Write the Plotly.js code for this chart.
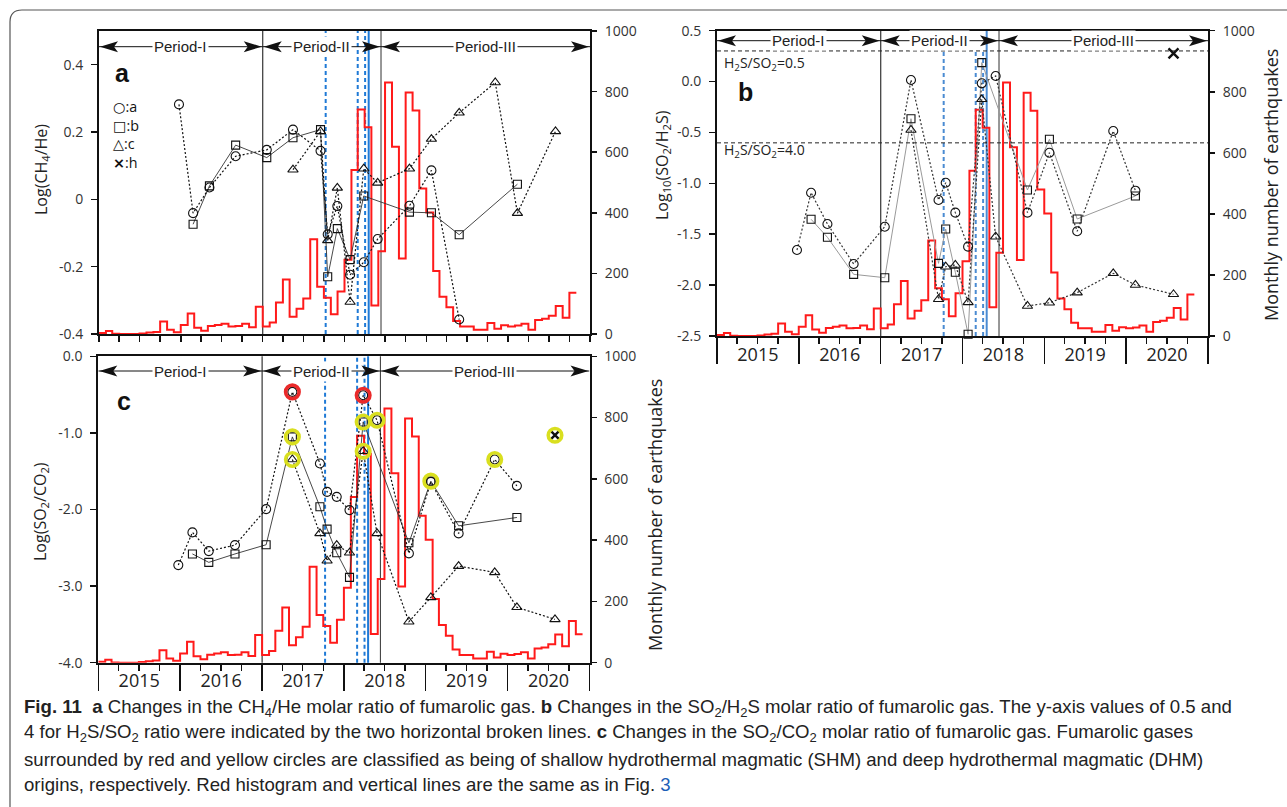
<!DOCTYPE html>
<html><head><meta charset="utf-8">
<script src="https://cdn.plot.ly/plotly-3.0.1.min.js"></script>
<style>html,body{margin:0;padding:0;background:#fff;}#chart{width:1287px;height:807px;}</style>
</head><body><div id="chart"></div>
<script>
// ---------------- DATA ----------------
const sampleDates = ['2015-12-24','2016-02-25','2016-05-08','2016-09-02','2017-01-19','2017-05-16','2017-09-16','2017-10-18','2017-11-30','2018-01-26','2018-03-28','2018-05-29','2018-10-18','2019-01-24','2019-05-28','2019-11-05','2020-02-12','2020-07-31'];
// panel a: Log(CH4/He)
const ch4He_a = [0.282,-0.041,0.035,0.128,0.147,0.207,0.144,-0.104,-0.020,-0.224,-0.187,-0.118,-0.019,0.086,-0.357,null,null,null];
const ch4He_b = [null,-0.074,0.040,0.161,0.124,0.183,0.207,-0.230,-0.087,-0.179,0.010,null,-0.038,-0.040,-0.105,null,0.045,null];
const ch4He_c = [null,null,null,null,null,0.088,0.202,-0.122,0.034,-0.305,0.091,0.049,0.091,0.179,0.257,0.347,-0.041,0.202];
// panel b: Log10(SO2/H2S)
const so2H2s_a = [-1.655,-1.092,-1.399,-1.792,-1.426,0.016,-1.164,-0.994,-1.288,-1.622,-0.017,0.055,-1.288,-0.699,-1.471,-0.486,-1.072,null];
const so2H2s_b = [null,-1.353,-1.530,-1.894,-1.927,-0.365,-1.786,-1.449,-1.874,-2.483,0.186,null,-1.065,-0.567,-1.350,null,-1.124,null];
const so2H2s_c = [null,null,null,null,null,-0.476,-2.139,-1.819,-1.802,-2.170,-0.174,-1.524,-2.205,-2.173,-2.074,-1.884,-1.999,-2.090];
const so2H2s_h = [null,null,null,null,null,null,null,null,null,null,null,null,null,null,null,null,null,0.278];
// panel c: Log(SO2/CO2)
const so2Co2_a = [-2.726,-2.299,-2.543,-2.465,-1.995,-0.465,-1.399,-1.770,-1.835,-2.008,-0.508,-0.834,-2.573,-1.639,-2.312,-1.347,-1.691,null];
const so2Co2_b = [null,-2.58,-2.69,-2.58,-2.46,-1.052,-1.965,-2.256,-2.565,-2.886,-0.857,null,-2.435,-1.630,-2.213,null,-2.104,null];
const so2Co2_c = [null,null,null,null,null,-1.347,-2.312,-2.669,-2.465,-2.565,-1.239,-2.312,-3.465,-3.147,-2.739,-2.821,-3.277,-3.434];
const so2Co2_h = [null,null,null,null,null,null,null,null,null,null,null,null,null,null,null,null,null,-1.030];
// origin class of panel c samples (SHM = red circle, DHM = yellow circle)
const origin_a = ['','','','','','SHM','','','','','SHM','DHM','','','','DHM','',''];
const origin_b = ['','','','','','DHM','','','','','DHM','','','DHM','','','',''];
const origin_c = ['','','','','','DHM','','','','','DHM','','','','','','',''];
const origin_h = ['','','','','','','','','','','','','','','','','','DHM'];
// monthly number of earthquakes from Jan 2015
const eqCounts = [3,10,1,0,0,0,2,5,7,41,14,6,30,68,21,11,26,30,34,25,26,34,22,90,
  25,38,104,180,57,83,117,313,156,120,65,140,245,541,741,682,94,273,830,618,249,797,738,480,
  401,208,123,88,43,25,25,14,14,36,17,29,25,28,34,14,46,50,60,92,54,136,93];
const eqMonthsAB = 70, eqMonthsC = 71;
// periods and events
const periodBounds = ['2015-01-01','2017-01-01','2018-06-13','2021-01-01'];
const periodNames = ['Period-I','Period-II','Period-III'];
const blueDashed = ['2017-10-09','2018-03-01','2018-04-03'];
const blueSolid = ['2018-04-19'];
const h2sSo2Ratios = [0.5, 4.0];
// ticks
const ticksA = [-0.4,-0.2,0,0.2,0.4], ticksAText = ['-0.4','-0.2','0','0.2','0.4'];
const ticksB = [-2.5,-2,-1.5,-1,-0.5,0,0.5], ticksBText = ['-2.5','-2.0','-1.5','-1.0','-0.5','0.0','0.5'];
const ticksC = [-4,-3,-2,-1,0], ticksCText = ['-4.0','-3.0','-2.0','-1.0','0.0'];
const ticksEq = [0,200,400,600,800,1000], ticksEqText = ['0','200','400','600','800','1000'];
const legendSymbols = ['○','□','△','<b>×</b>'], legendNames = [':a',':b',':c',':h'];

// ---------------- LAYOUT HELPERS ----------------
const W = 1287, H = 807;
const fx = p => p / W, fy = p => 1 - p / H;
const xStart = periodBounds[0], xEnd = periodBounds[3];
const box = {a:{l:99,r:590,t:31,b:334}, b:{l:717,r:1208,t:30.7,b:336}, c:{l:98.3,r:589.5,t:356.3,b:662.7}};
const monthDate = i => { const y = 2015 + Math.floor(i/12), m = i % 12 + 1; return y + '-' + String(m).padStart(2,'0') + '-01'; };
const midDate = (a,b) => new Date((Date.parse(a)+Date.parse(b))/2).toISOString().slice(0,10);
const FT = 'Open Sans, sans-serif';
const INK = '#111';

function histTrace(xid, yid, n) {
  const xs = [], ys = [];
  for (let i = 0; i < n; i++) { xs.push(monthDate(i)); ys.push(eqCounts[i]); }
  xs.push(monthDate(n)); ys.push(eqCounts[n-1]);
  return {type:'scatter', mode:'lines', x:xs, y:ys, xaxis:xid, yaxis:yid, line:{shape:'hv', color:'#ff1a1a', width:2}, hoverinfo:'skip', showlegend:false};
}
function gasTrace(xid, yid, vals, sym, size, line) {
  return {type:'scatter', mode:'lines+markers', x:sampleDates, y:vals, xaxis:xid, yaxis:yid, connectgaps:true,
    line:line, marker:{symbol:sym, size:size, color:INK, line:{width:1.1, color:INK}}, cliponaxis:false, hoverinfo:'skip', showlegend:false};
}
function ringTrace(xid, yid, list, cls, color) {
  const xs = [], ys = [];
  list.forEach(([vals, org]) => org.forEach((o,i) => { if (o === cls && vals[i] !== null) { xs.push(sampleDates[i]); ys.push(vals[i]); } }));
  return {type:'scatter', mode:'markers', x:xs, y:ys, xaxis:xid, yaxis:yid, marker:{symbol:'circle-open', size:13.5, color:color, line:{width:3.6, color:color}}, cliponaxis:false, hoverinfo:'skip', showlegend:false};
}
const dotLine = {dash:'2px,2px', width:1.2, color:'#111'};
const solidLine = {width:0.9, color:'#333'};
const solidGray = {width:1, color:'#9a9a9a'};
const hMarker = (xid, yid, vals) => ({type:'scatter', mode:'markers', x:sampleDates, y:vals, xaxis:xid, yaxis:yid, marker:{symbol:'x-thin-open', size:10, color:INK, line:{width:2.4, color:INK}}, cliponaxis:false, hoverinfo:'skip', showlegend:false});

const traces = [
  histTrace('x','y',eqMonthsAB),
  gasTrace('x','y2',ch4He_b,'square-open',8,solidLine),
  gasTrace('x','y2',ch4He_a,'circle-open',9,dotLine),
  gasTrace('x','y2',ch4He_c,'triangle-up-open',9,dotLine),
  histTrace('x2','y3',eqMonthsAB),
  gasTrace('x2','y4',so2H2s_b,'square-open',8,solidGray),
  gasTrace('x2','y4',so2H2s_a,'circle-open',9,{dash:'2px,2px', width:1.2, color:'#333'}),
  gasTrace('x2','y4',so2H2s_c,'triangle-up-open',9,{dash:'2px,2px', width:1.2, color:'#333'}),
  hMarker('x2','y4',so2H2s_h),
  histTrace('x3','y5',eqMonthsC),
  gasTrace('x3','y6',so2Co2_b,'square-open',8,solidLine),
  gasTrace('x3','y6',so2Co2_a,'circle-open',9,dotLine),
  gasTrace('x3','y6',so2Co2_c,'triangle-up-open',9,dotLine),
  hMarker('x3','y6',so2Co2_h),
  ringTrace('x3','y6',[[so2Co2_a,origin_a],[so2Co2_b,origin_b],[so2Co2_c,origin_c],[so2Co2_h,origin_h]],'DHM','#d9df1f'),
  ringTrace('x3','y6',[[so2Co2_a,origin_a],[so2Co2_b,origin_b],[so2Co2_c,origin_c],[so2Co2_h,origin_h]],'SHM','#ea2a2a')
];

function xAx(bx, anchor, labelled) {
  const o = {type:'date', domain:[fx(bx.l), fx(bx.r)], anchor:anchor, range:[xStart, xEnd], showgrid:false, zeroline:false,
    showline:true, linecolor:INK, linewidth:2, mirror:true, ticks:'outside', tickcolor:INK, tickwidth:1.5, fixedrange:true, tick0:xStart};
  if (labelled) {
    Object.assign(o, {dtick:'M12', ticklen:26, ticklabelmode:'period', tickformat:'%Y', ticklabelstandoff:-25,
      tickfont:{family:FT, size:18, color:'#222'},
      minor:{dtick:'M3', tick0:xStart, ticks:'outside', ticklen:6, tickwidth:1.5, tickcolor:INK}});
  } else {
    Object.assign(o, {dtick:'M3', ticklen:6, showticklabels:false});
  }
  return o;
}
function eqAx(bx, anchor) {
  return {domain:[fy(bx.b), fy(bx.t)], anchor:anchor, side:'right', range:[0,1000], tickvals:ticksEq, ticktext:ticksEqText,
    showgrid:false, zeroline:false, showline:true, linecolor:INK, linewidth:2, ticks:'outside', ticklen:5, tickwidth:1.5, tickcolor:INK,
    ticklabelstandoff:5, tickfont:{family:FT, size:14, color:'#333'}, fixedrange:true};
}
function logAx(over, anchor, rng, tv, tt) {
  return {overlaying:over, anchor:anchor, side:'left', range:rng, tickvals:tv, ticktext:tt, showgrid:false, zeroline:false,
    showline:true, linecolor:INK, linewidth:2, ticks:'outside', ticklen:6, tickwidth:1.5, tickcolor:INK,
    ticklabelstandoff:5, tickfont:{family:FT, size:14, color:'#333'}, fixedrange:true};
}

const shapes = [], annotations = [];
// figure frame
shapes.push({type:'path', xref:'paper', yref:'paper', line:{color:'#555', width:1.2},
  path:`M ${fx(10)},${fy(807)} L ${fx(10)},${fy(22)} Q ${fx(10)},${fy(10)} ${fx(22)},${fy(10)} L ${fx(1290)},${fy(10)}`});

function panelDecor(xid, yDomRef, logRef, bx, arrowY, blueColor, blueTop) {
  blueDashed.forEach(d => shapes.push({type:'line', xref:xid, yref: blueTop===null ? yDomRef : logRef, x0:d, x1:d,
    y0: blueTop===null ? 0 : blueTop[0], y1: blueTop===null ? 1 : blueTop[1], layer:'below', line:{color:blueColor, width:2, dash:'4px,3px'}}));
  blueSolid.forEach(d => shapes.push({type:'line', xref:xid, yref:yDomRef, x0:d, x1:d, y0:0, y1:1, layer:'below', line:{color:blueColor, width:2}}));
  [periodBounds[1], periodBounds[2]].forEach((d,k) => shapes.push({type:'line', xref:xid, yref:yDomRef, x0:d, x1:d, y0:0, y1:1, layer:'below', line:{color: k===0 ? '#222' : '#444', width:1.1}}));
  const yp = fy(arrowY);
  for (let k = 0; k < 3; k++) {
    const a = periodBounds[k], b = periodBounds[k+1];
    shapes.push({type:'line', xref:xid, yref:'paper', x0:a, x1:b, y0:yp, y1:yp, line:{color:INK, width:1}});
    shapes.push({type:'path', xref:xid, yref:'paper', xsizemode:'pixel', ysizemode:'pixel', xanchor:a, yanchor:yp,
      path:'M1,0 L19,5.5 L15,0 L19,-5.5 Z', fillcolor:INK, line:{width:0}});
    shapes.push({type:'path', xref:xid, yref:'paper', xsizemode:'pixel', ysizemode:'pixel', xanchor:b, yanchor:yp,
      path:'M-1,0 L-19,5.5 L-15,0 L-19,-5.5 Z', fillcolor:INK, line:{width:0}});
    annotations.push({xref:xid, yref:'paper', x:midDate(a,b), y:yp, xanchor:'center', yanchor:'middle', text:periodNames[k], showarrow:false, bgcolor:'#fff', borderpad:1,
      font:{family:'Liberation Sans, Arial', size:15, color:'#222'}});
  }
}
panelDecor('x','y domain','y2',box.a,46.7,'#1f7ad6',null);
panelDecor('x2','y3 domain','y4',box.b,40.7,'#4a8bd2',[-2.5, Math.log10(1/h2sSo2Ratios[0])]);
panelDecor('x3','y5 domain','y6',box.c,371,'#1f7ad6',null);

h2sSo2Ratios.forEach((r,k) => {
  const yv = Math.log10(1/r);
  shapes.push({type:'line', xref:'x2 domain', yref:'y4', x0:0, x1:1, y0:yv, y1:yv, line:{color:'#222', width:1, dash:'4px,3px'}});
  annotations.push({xref:'paper', yref:'y4', x:fx(722), y:yv, yshift: k===0 ? -13 : -8, xanchor:'left', yanchor:'middle', showarrow:false,
    text:'H<sub>2</sub>S/SO<sub>2</sub>=' + r.toFixed(1), font:{family:FT, size:14, color:'#222'}});
});

const ann = (px, py, text, size, opts) => annotations.push(Object.assign({xref:'paper', yref:'paper', x:fx(px), y:fy(py), text:text, showarrow:false,
  xanchor:'center', yanchor:'middle', font:{family:FT, size:size, color:'#222'}}, opts||{}));
// panel letters
ann(122, 73, '<b>a</b>', 25, {font:{family:'Liberation Sans, Arial', size:25, color:'#111'}});
ann(746, 92, '<b>b</b>', 25, {font:{family:'Liberation Sans, Arial', size:25, color:'#111'}});
ann(124, 401, '<b>c</b>', 25, {font:{family:'Liberation Sans, Arial', size:25, color:'#111'}});
// legend (one block)
const legendText = legendSymbols.map((s,k) => '<span style="font-family:DejaVu Sans">' + s + '</span>' + legendNames[k]).join('<br>');
ann(111, 95, legendText, 14.3, {xanchor:'left', yanchor:'top', align:'left', font:{family:FT, size:14.3, color:'#111'}});
// axis titles
ann(42, 170, 'Log(CH<sub>4</sub>/He)', 16, {textangle:-90});
ann(662, 165, 'Log<sub>10</sub>(SO<sub>2</sub>/H<sub>2</sub>S)', 16, {textangle:-90});
ann(1271, 185, 'Monthly number of earthquakes', 18, {textangle:-90});
ann(40, 512, 'Log(SO<sub>2</sub>/CO<sub>2</sub>)', 16, {textangle:-90});
ann(655, 515, 'Monthly number of earthquakes', 18, {textangle:-90});
// caption
const captionLines = [
  '<b>Fig. 11</b>  <b>a</b> Changes in the CH<sub>4</sub>/He molar ratio of fumarolic gas. <b>b</b> Changes in the SO<sub>2</sub>/H<sub>2</sub>S molar ratio of fumarolic gas. The y-axis values of 0.5 and',
  '4 for H<sub>2</sub>S/SO<sub>2</sub> ratio were indicated by the two horizontal broken lines. <b>c</b> Changes in the SO<sub>2</sub>/CO<sub>2</sub> molar ratio of fumarolic gas. Fumarolic gases',
  'surrounded by red and yellow circles are classified as being of shallow hydrothermal magmatic (SHM) and deep hydrothermal magmatic (DHM)',
  'origins, respectively. Red histogram and vertical lines are the same as in Fig. <span style="color:#1c5fb8">3</span>'
];
const captionY = [706, 731, 759, 784];
captionLines.forEach((t,k) => annotations.push({xref:'paper', yref:'paper', x:fx(22), y:fy(captionY[k] + (t.indexOf('<sub>') >= 0 ? 2 : 0)), xanchor:'left', yanchor:'middle', showarrow:false,
  text:t, font:{family:'Liberation Sans, Arial', size:18.6, color:'#222'}}));

const layout = {
  width:W, height:H, margin:{l:0,r:0,t:0,b:0}, paper_bgcolor:'#fff', plot_bgcolor:'rgba(0,0,0,0)', showlegend:false,
  xaxis: xAx(box.a,'y',false), yaxis: eqAx(box.a,'x'), yaxis2: logAx('y','x',[-0.4,0.5],ticksA,ticksAText),
  xaxis2: xAx(box.b,'y3',true), yaxis3: eqAx(box.b,'x2'), yaxis4: logAx('y3','x2',[-2.5,0.5],ticksB,ticksBText),
  xaxis3: xAx(box.c,'y5',true), yaxis5: eqAx(box.c,'x3'), yaxis6: logAx('y5','x3',[-4,0],ticksC,ticksCText),
  shapes:shapes, annotations:annotations
};
Plotly.newPlot('chart', traces, layout, {staticPlot:true, displayModeBar:false});
</script></body></html>
